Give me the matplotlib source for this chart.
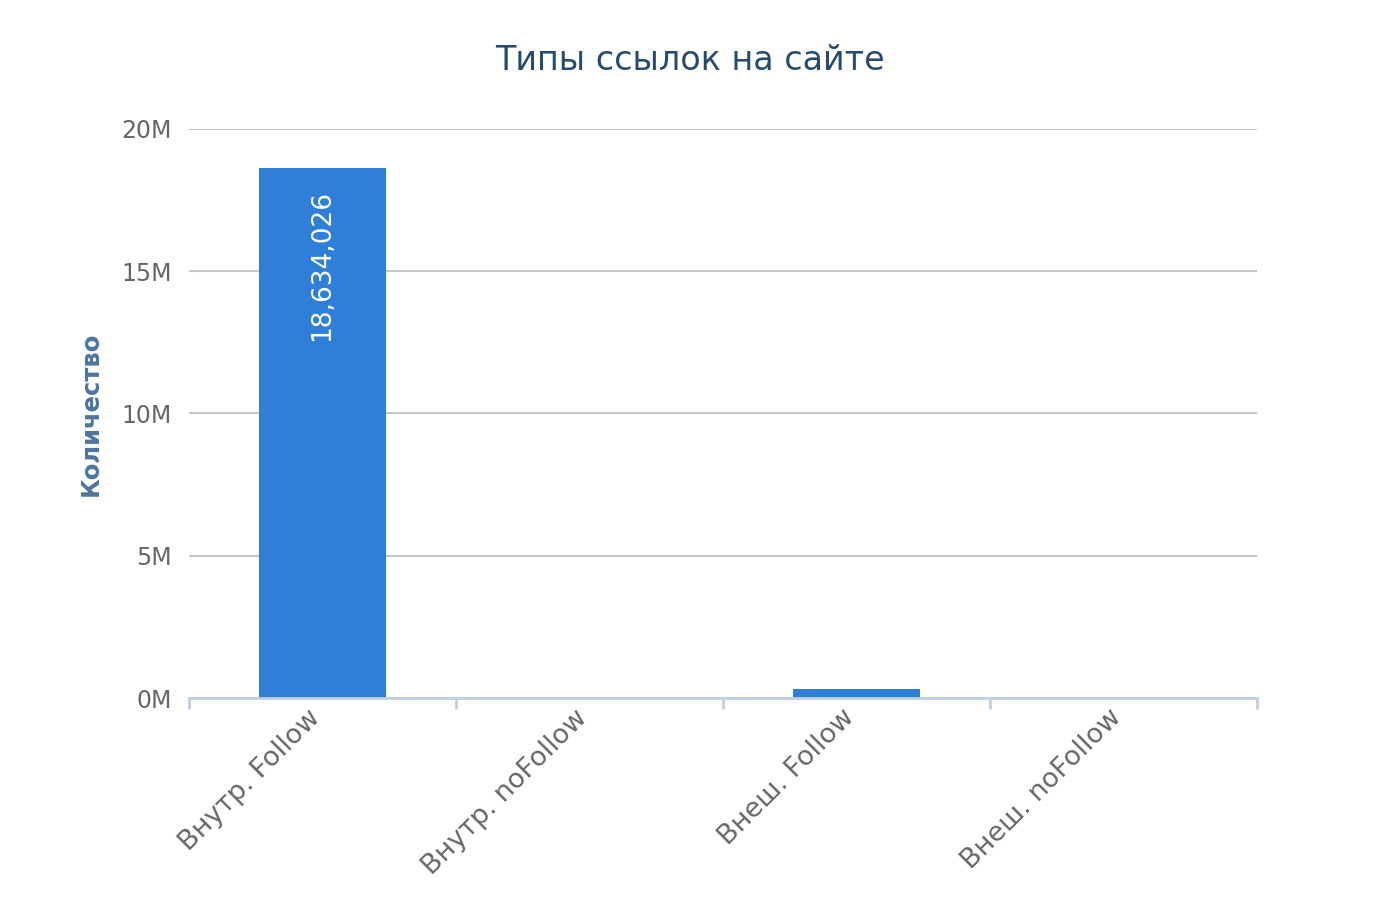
import matplotlib
matplotlib.use("Agg")
import matplotlib.pyplot as plt
import matplotlib.transforms as mtransforms
from matplotlib.ticker import FuncFormatter, FixedLocator

categories = ["Внутр. Follow", "Внутр. noFollow", "Внеш. Follow", "Внеш. noFollow"]
values = [18634026, 0, 320000, 0]
title = "Типы ссылок на сайте"
ylabel = "Количество"
yticks = [0, 5e6, 10e6, 15e6, 20e6]

plt.rcParams['font.family'] = ['DejaVu Sans']

fig = plt.figure(figsize=(13.81, 9.21), dpi=100)
fig.patch.set_facecolor('white')
ax = fig.add_axes([189/1381, 1-698/921, (1257-189)/1381, (698-129)/921])

x = list(range(len(categories)))
ax.bar(x, values, width=0.475, color='#2f7ed8', zorder=3)

ax.set_xlim(-0.5, len(categories)-0.5)
ax.set_ylim(0, 20e6)
ax.yaxis.set_major_locator(FixedLocator(yticks))
ax.yaxis.set_major_formatter(FuncFormatter(lambda v, p: f"{int(v/1e6)}M"))
ax.grid(axis='y', color='#c8c8c8', linewidth=1.5, zorder=0)
ax.tick_params(axis='y', length=0, pad=12.5, labelsize=17, labelcolor='#666666')

for s in ['top', 'right', 'left']:
    ax.spines[s].set_visible(False)
ax.spines['bottom'].set_color('#c0d0e0')
ax.spines['bottom'].set_linewidth(2)
ax.spines['bottom'].set_zorder(4)

ax.set_xticks(x)
ax.set_xticklabels(categories, rotation=45, ha='right', va='top',
                   rotation_mode='anchor', fontsize=19.5, color='#666666')
ax.tick_params(axis='x', which='major', length=0, pad=7)
offset = mtransforms.ScaledTranslation(-15/100, 3/100, fig.dpi_scale_trans)
for lbl in ax.get_xticklabels():
    lbl.set_transform(lbl.get_transform() + offset)
ax.set_xticks([i-0.5 for i in range(len(categories)+1)], minor=True)
ax.tick_params(axis='x', which='minor', length=8, width=2, color='#c0d0e0')

fig.text(91/1381, 1-413.5/921, ylabel, rotation=90, ha='center', va='center',
         fontsize=17.5, fontweight='bold', color='#4d759e')

for xi, v in zip(x, values):
    if v > 5e6:
        ax.annotate(f"{v:,}", (xi, v), xytext=(0, -16), textcoords='offset points',
                    rotation=90, ha='center', va='top', color='white', fontsize=19, zorder=5)

fig.text(0.4993, 1-60/921, title, ha='center', va='center', fontsize=24, color='#274b6d')

fig.savefig("out.png", dpi=100, facecolor='white')
